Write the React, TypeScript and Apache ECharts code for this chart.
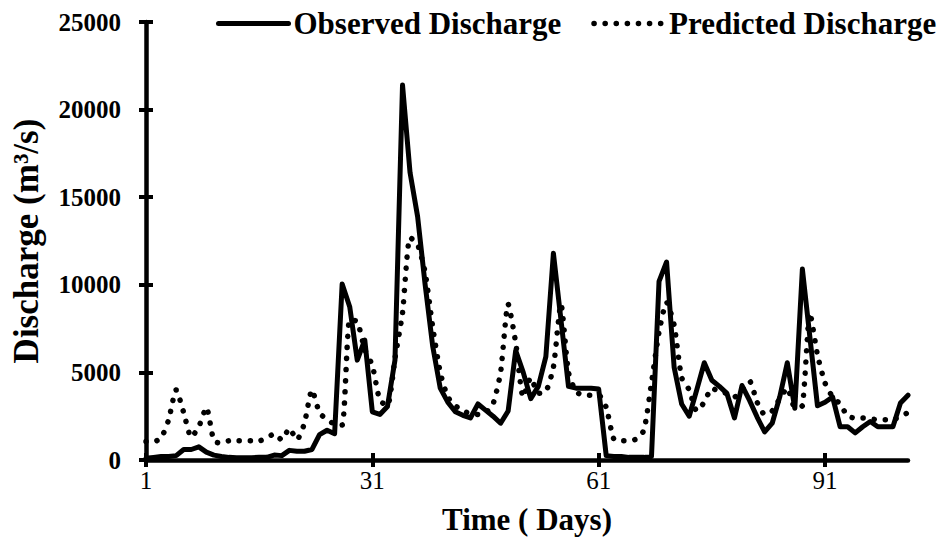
import React, { useEffect, useRef } from "react";
import * as echarts from "echarts";

// Days 1..102
const days: string[] = Array.from({ length: 102 }, (_, i) => String(i + 1));

const observedDischarge: number[] = [
  100, 150, 200, 200, 250, 600, 600, 750, 450, 280,
  200, 150, 130, 130, 130, 150, 150, 280, 250, 550,
  500, 500, 600, 1450, 1700, 1500, 10050, 8750, 5700, 6850,
  2750, 2600, 3050, 5700, 21400, 16400, 13900, 10000, 6500, 4100,
  3300, 2750, 2550, 2400, 3200, 2850, 2500, 2100, 2800, 6250,
  5000, 3500, 4200, 5900, 11800, 8000, 4200, 4100, 4100, 4100,
  4050, 250, 200, 200, 150, 150, 150, 200, 10200, 11300,
  5300, 3200, 2500, 4000, 5550, 4550, 4200, 3800, 2400, 4250,
  3400, 2450, 1600, 2100, 3600, 5550, 2950, 10900, 7000, 3100,
  3300, 3600, 1900, 1900, 1550, 1900, 2200, 1900, 1900, 1900,
  3250, 3700,
];

const predictedDischarge: number[] = [
  1050, 1050, 1250, 2300, 4000, 2700, 1300, 1900, 3000, 1100,
  950, 1100, 1100, 1100, 1100, 1100, 1250, 1500, 1150, 1800,
  1150, 2100, 4000, 2700, 2300, 2050, 2000, 8000, 7900, 6300,
  5400, 3400, 3100, 5800, 8400, 12700, 12300, 10700, 7600, 5000,
  3600, 3100, 2800, 2650, 2600, 2700, 3200, 5000, 8900, 6700,
  3600, 4700, 3800, 3900, 5300, 8900, 5000, 3900, 3700, 3700,
  3700, 3000, 1200, 1100, 1100, 1200, 1700, 4400, 7300, 9000,
  7700, 4700, 4000, 2800, 3300, 4100, 3900, 3800, 3600, 4000,
  4500, 3300, 2600, 2800, 3500, 4100, 3000, 3100, 8400, 6000,
  4400, 3600, 3200, 2500, 2400, 2400, 2350, 2300, 2300, 2300,
  2500, 2700,
];

const seriesNames = ["Observed Discharge", "Predicted Discharge"];
const xTitle = "Time ( Days)";
const yTitle = "Discharge (m³/s)";

const FONT = "'Liberation Serif', 'Times New Roman', serif";

export default function App() {
  const ref = useRef<HTMLDivElement>(null);

  useEffect(() => {
    document.body.style.margin = "0";
    if (!ref.current) return;
    const chart = echarts.init(ref.current, undefined, { renderer: "svg" });
    const axisLineStyle = { color: "#000", width: 4.5 };
    const tickStyle = { color: "#000", width: 4 };
    const dotted = { color: "#000", width: 5.5, type: [0.1, 11], cap: "round", join: "round" };
    const option: any = {
      animation: false,
      backgroundColor: "#ffffff",
      textStyle: { fontFamily: FONT, color: "#000" },
      legend: {
        top: 3,
        left: 211,
        itemWidth: 70,
        itemHeight: 12,
        itemGap: 30,
        data: [
          { name: seriesNames[0], itemStyle: { opacity: 0 }, lineStyle: { width: 5, color: "#000", type: "solid" } },
          { name: seriesNames[1], itemStyle: { opacity: 0 }, lineStyle: dotted },
        ],
        textStyle: { fontFamily: FONT, fontSize: 31, fontWeight: "bold", color: "#000" },
      },
      grid: { left: 146, right: 35, top: 22, bottom: 82, containLabel: false },
      xAxis: [
        {
          type: "category",
          data: days,
          boundaryGap: false,
          axisLine: { show: true, lineStyle: axisLineStyle },
          axisTick: { show: true, interval: 29, length: 7, lineStyle: tickStyle },
          axisLabel: { interval: 29, fontSize: 25, color: "#000", margin: 8, fontFamily: FONT },
          splitLine: { show: false },
          name: xTitle,
          nameLocation: "middle",
          nameGap: 44,
          nameMoveOverlap: false,
          nameTextStyle: { fontFamily: FONT, fontSize: 31, fontWeight: "bold", color: "#000" },
        },
        {
          type: "category",
          data: days,
          boundaryGap: false,
          position: "bottom",
          axisLine: { show: false },
          axisTick: { show: true, inside: true, interval: 29, length: 7, lineStyle: tickStyle },
          axisLabel: { show: false },
          splitLine: { show: false },
        },
      ],
      yAxis: [
        {
          type: "value",
          min: 0,
          max: 25000,
          interval: 5000,
          axisLine: { show: true, lineStyle: axisLineStyle },
          axisTick: { show: true, length: 7, lineStyle: tickStyle },
          axisLabel: {
            fontSize: 25,
            fontWeight: "bold",
            color: "#000",
            margin: 25,
            fontFamily: FONT,
            formatter: (v: number) => String(v),
          },
          splitLine: { show: false },
          name: yTitle,
          nameLocation: "middle",
          nameRotate: 90,
          nameGap: 102,
          nameMoveOverlap: false,
          nameTextStyle: {
            fontFamily: FONT,
            fontSize: 35,
            fontWeight: "bold",
            color: "#000",
          },
        },
        {
          type: "value",
          min: 0,
          max: 25000,
          interval: 5000,
          position: "left",
          axisLine: { show: false },
          axisTick: { show: true, inside: true, length: 7, lineStyle: tickStyle },
          axisLabel: { show: false },
          splitLine: { show: false },
        },
      ],
      series: [
        {
          name: seriesNames[0],
          type: "line",
          data: observedDischarge,
          symbol: "none",
          smooth: false,
          lineStyle: { color: "#000", width: 5, join: "round", cap: "round" },
          itemStyle: { color: "#000" },
          z: 3,
        },
        {
          name: seriesNames[1],
          type: "line",
          data: predictedDischarge,
          symbol: "none",
          smooth: 0.2,
          lineStyle: dotted,
          itemStyle: { color: "#000" },
          z: 4,
        },
      ],
    };
    chart.setOption(option);
    return () => chart.dispose();
  }, []);

  return (
    <div
      ref={ref}
      style={{ position: "fixed", left: 0, top: 0, width: 943, height: 542, background: "#fff" }}
    />
  );
}
